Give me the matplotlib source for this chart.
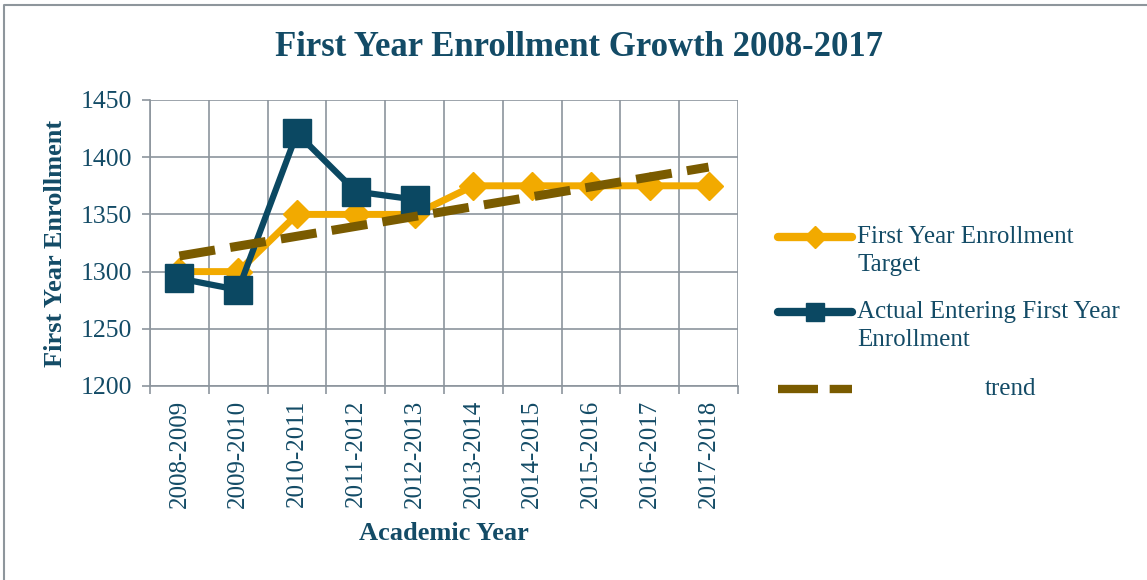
"""First year enrollment growth chart: target vs actual with a linear trend."""

import matplotlib
matplotlib.use("Agg")
import matplotlib.lines as mlines
import matplotlib.pyplot as plt
import numpy as np

YEARS = ["2008-2009", "2009-2010", "2010-2011", "2011-2012", "2012-2013",
         "2013-2014", "2014-2015", "2015-2016", "2016-2017", "2017-2018"]
TARGET = [1300, 1300, 1350, 1350, 1350, 1375, 1375, 1375, 1375, 1375]
ACTUAL = [1294, 1284, 1421, 1370, 1363]
Y_TICKS = [1200, 1250, 1300, 1350, 1400, 1450]

ORANGE = "#F2AA00"
NAVY = "#0B4862"
TREND = "#7A5B00"
TEXT = "#134B66"
GRID = "#8C959D"

plt.rcParams["font.family"] = ["Liberation Serif", "DejaVu Serif"]

fig = plt.figure(figsize=(11.47, 5.8), dpi=100)
W, H = 1147, 580
ax = fig.add_axes([150 / W, 1 - 386 / H, (738 - 150) / W, (386 - 100) / H])

x = np.arange(len(YEARS))
ax.plot(x, TARGET, color=ORANGE, linewidth=5, marker="D", markersize=14,
        markeredgecolor=ORANGE, zorder=3, solid_capstyle="round")
ax.plot(x[:len(ACTUAL)], ACTUAL, color=NAVY, linewidth=4.5, marker="s",
        markersize=20, markeredgecolor=NAVY, zorder=4)

# linear trend of the target series
coef = np.polyfit(x, TARGET, 1)
ax.plot(x, np.polyval(coef, x), color=TREND, linewidth=6.5,
        linestyle=(0, (4.0, 1.7)), zorder=5)

ax.set_xlim(-0.5, len(YEARS) - 0.5)
ax.set_ylim(Y_TICKS[0], Y_TICKS[-1])
ax.set_yticks(Y_TICKS)
ax.set_xticks(np.arange(-0.5, len(YEARS), 1))
ax.set_xticklabels([])
ax.set_xticks(x, minor=True)
ax.set_xticklabels(YEARS, minor=True, rotation=90, fontsize=18, color=TEXT)
ax.tick_params(axis="x", which="minor", length=0, pad=10)
ax.tick_params(axis="x", which="major", length=6, color=GRID, width=1.2)
ax.tick_params(axis="y", length=6, color=GRID, width=1.2, labelsize=18.5,
               labelcolor=TEXT, pad=7)

ax.grid(True, which="major", color=GRID, linewidth=1.2)
ax.set_axisbelow(True)
for side in ["left", "bottom"]:
    ax.spines[side].set_color(GRID)
    ax.spines[side].set_linewidth(1.2)
for side in ["top", "right"]:
    ax.spines[side].set_visible(False)

ax.set_xlabel("Academic Year", fontsize=19, fontweight="bold", color=TEXT, labelpad=10)
ax.set_ylabel("First Year Enrollment", fontsize=19, fontweight="bold", color=TEXT, labelpad=10)

fig.text(0.5 * (265 + 893) / W, 1 - 48 / H, "First Year Enrollment Growth 2008-2017",
         ha="center", va="center", fontsize=25, fontweight="bold", color=TEXT)

# legend drawn by hand to keep the two-line labels aligned like the original
legend_rows = [
    (237, 857, "First Year Enrollment\nTarget",
     dict(color=ORANGE, linewidth=6, marker="D", markersize=11, solid_capstyle="round")),
    (312, 857, "Actual Entering First Year\nEnrollment",
     dict(color=NAVY, linewidth=6, marker="s", markersize=13, solid_capstyle="round")),
    (389, 985, "trend",
     dict(color=TREND, linewidth=6, linestyle=(0, (4.8, 1.4)))),
]
for ypix, xpix, label, style in legend_rows:
    yf = 1 - ypix / H
    fig.add_artist(mlines.Line2D([778 / W, 852 / W], [yf, yf], markevery=[],
                                 transform=fig.transFigure, **style))
    if "marker" in style:
        fig.add_artist(mlines.Line2D([815 / W], [yf], transform=fig.transFigure,
                                     linestyle="none", marker=style["marker"],
                                     markersize=style["markersize"], color=style["color"]))
    fig.text(xpix / W, yf + 11 / H, label, ha="left", va="top", fontsize=18,
             color=TEXT, linespacing=1.38)

# outer frame
fig.add_artist(mlines.Line2D([4 / W, 4 / W, 1.0], [0, 1 - 5 / H, 1 - 5 / H],
                             transform=fig.transFigure, color="#8E969C", linewidth=1.5))

fig.savefig("out.png", dpi=100, facecolor="white")
